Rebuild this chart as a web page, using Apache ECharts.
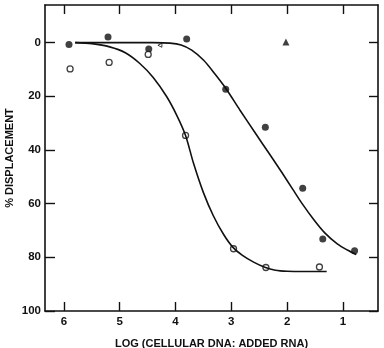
<!DOCTYPE html>
<html>
<head>
<meta charset="utf-8">
<script src="https://cdn.jsdelivr.net/npm/echarts@6/dist/echarts.min.js"></script>
<style>
  html, body { margin: 0; padding: 0; background: #fff; }
  #main1 { width: 384px; height: 348px; }
</style>
</head>
<body>
<div id="main1"></div>
<script>
// tick values on both axes
const xTicks = [1, 2, 3, 4, 5, 6];
const yTicks = [0, 20, 40, 60, 80, 100];

// measured points, [log ratio, % displacement]
const filledPts = [[5.91, 0.7], [5.21, -2.1], [4.48, 2.4], [3.80, -1.3], [3.10, 17.4],
  [2.39, 31.5], [1.72, 54.3], [1.36, 73.2], [0.79, 77.6]];
const openPts = [[5.89, 9.8], [5.19, 7.4], [4.49, 4.4], [3.82, 34.6], [2.96, 76.8],
  [2.38, 83.8], [1.42, 83.6]];
const trianglePts = [[2.02, -0.2]];
const smallMark = [[4.28, 1.0]];

// fitted curves
const filledCurve = [[5.8, 0], [5.0, 0], [4.4, 0], [4.1, 0.2], [3.9, 0.9], [3.71, 2.8],
  [3.5, 6.5], [3.3, 11.5], [3.1, 17], [2.85, 25], [2.57, 33.7], [2.3, 42], [2.09, 48.5],
  [1.9, 54.6], [1.73, 60], [1.52, 66], [1.32, 71], [1.1, 75], [0.92, 77.3], [0.76, 79]];
const openCurve = [[5.8, 0], [5.5, 0.4], [5.18, 1.6], [4.9, 3.8], [4.64, 7.8], [4.4, 13],
  [4.16, 20.1], [3.98, 27], [3.82, 34.6], [3.68, 44.8], [3.5, 55.9], [3.32, 64.6],
  [3.14, 71.4], [2.97, 76.3], [2.8, 79.3], [2.6, 81.8], [2.4, 83.7], [2.21, 84.8],
  [2.0, 85.2], [1.7, 85.3], [1.29, 85.3]];

const ink = '#111';
const font = 'Liberation Sans';

function tickAxis(pos, isX) {
  return {
    type: 'value', inverse: true, position: pos,
    min: isX ? 0.37 : -14, max: isX ? 6.34 : 100,
    axisLine: { onZero: false, lineStyle: { color: ink, width: 1.6 } },
    axisTick: { inside: true, length: 9, customValues: isX ? xTicks : yTicks, lineStyle: { color: ink, width: 1.4 } },
    axisLabel: { show: false },
    splitLine: { show: false }
  };
}

let bottomAxis = tickAxis('bottom', true);
bottomAxis.name = 'LOG (CELLULAR DNA: ADDED RNA)';
bottomAxis.nameLocation = 'middle';
bottomAxis.nameGap = 27;
bottomAxis.nameTextStyle = { color: ink, fontFamily: font, fontWeight: 'bold', fontSize: 11 };
bottomAxis.axisLabel = { customValues: xTicks, margin: 5, color: ink, fontFamily: font, fontWeight: 'bold', fontSize: 11.5 };

let leftAxis = tickAxis('left', false);
leftAxis.name = '% DISPLACEMENT';
leftAxis.nameLocation = 'middle';
leftAxis.nameGap = 35;
leftAxis.nameRotate = 90;
leftAxis.nameMoveOverlap = false;
leftAxis.nameTextStyle = { color: ink, fontFamily: font, fontWeight: 'bold', fontSize: 11,
  align: 'center', verticalAlign: 'middle' };
leftAxis.axisTick.length = 10;
leftAxis.axisLabel = { customValues: yTicks, margin: 4, color: ink, fontFamily: font, fontWeight: 'bold', fontSize: 11.5 };

let optionObj = {
  animation: false,
  backgroundColor: '#fff',
  grid: { left: 45, top: 5, right: 6, bottom: 37, outerBoundsMode: 'none' },
  xAxis: [bottomAxis, tickAxis('top', true)],
  yAxis: [leftAxis, tickAxis('right', false)],
  series: [
    {
      type: 'line', data: filledCurve, smooth: 0.3, showSymbol: false,
      lineStyle: { color: ink, width: 1.6 }
    },
    {
      type: 'line', data: openCurve, smooth: 0.3, showSymbol: false,
      lineStyle: { color: ink, width: 1.6 }
    },
    {
      type: 'scatter', data: filledPts, symbol: 'circle', symbolSize: 7,
      itemStyle: { color: ink }
    },
    {
      type: 'scatter', data: openPts, symbol: 'circle', symbolSize: 6,
      itemStyle: { color: '#fff', borderColor: ink, borderWidth: 1.3 }
    },
    {
      type: 'scatter', data: trianglePts, symbol: 'triangle', symbolSize: 7,
      itemStyle: { color: ink }
    },
    {
      type: 'scatter', data: smallMark, symbol: 'triangle', symbolSize: 4, symbolRotate: 90,
      itemStyle: { color: '#fff', borderColor: ink, borderWidth: 1 }
    }
  ]
};

let myChart = echarts.init(document.getElementById('main1'));
myChart.setOption(optionObj);
</script>
</body>
</html>
